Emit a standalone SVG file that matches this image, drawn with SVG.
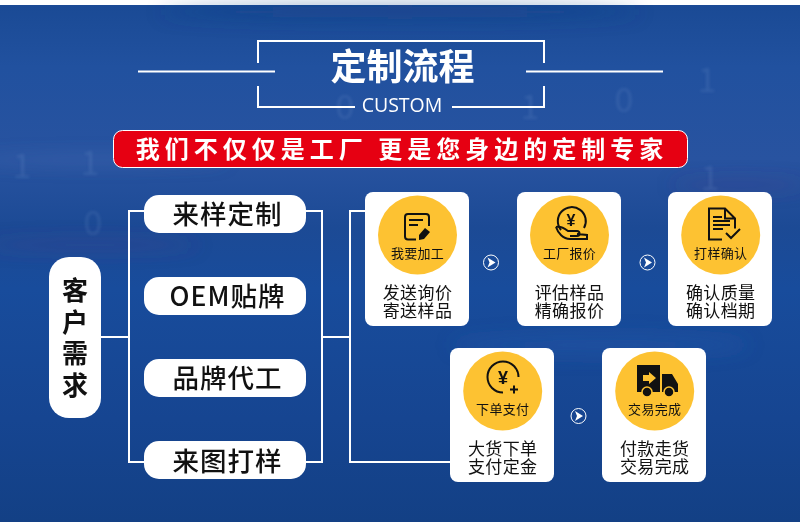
<svg xmlns="http://www.w3.org/2000/svg" width="800" height="527" viewBox="0 0 800 527">
<style>
text{font-family:"Noto Sans CJK SC","Liberation Sans",sans-serif;text-anchor:middle}
.ln{fill:none;stroke:#fff;stroke-width:2}
.p{font-size:26.500px;fill:#111;letter-spacing:1px;font-weight:500}
.q{font-size:26px;fill:#111;font-weight:700}
.c{font-size:13px;fill:#111;letter-spacing:.3px}
.d{font-size:17px;fill:#111;letter-spacing:.4px}
.ic{fill:none;stroke:#111;stroke-width:2}
.y{font-family:"Liberation Sans",sans-serif;font-weight:700;fill:#111}
.bg{font-family:"Liberation Sans",sans-serif;fill:#a9c4ec;font-size:34px}
</style>
<defs>
<linearGradient id="g" x1="0" y1="0" x2="0" y2="1"><stop offset="0" stop-color="#1a4a95"/><stop offset=".12" stop-color="#21519f"/><stop offset=".3" stop-color="#2853a0"/><stop offset=".43" stop-color="#1c4a95"/><stop offset=".55" stop-color="#184c9c"/><stop offset=".8" stop-color="#164591"/><stop offset="1" stop-color="#134085"/></linearGradient>
<filter id="b" x="-30%" y="-30%" width="160%" height="160%"><feGaussianBlur stdDeviation="1.500"/></filter>
<filter id="b2" x="-30%" y="-200%" width="160%" height="500%"><feGaussianBlur stdDeviation="9"/></filter>
<g id="arr"><circle r="7.500" fill="none" stroke="#fff" stroke-width="1"/><path d="M-3.500-5 4.500 0-3.500 5-1.500 0Z" fill="#fff"/></g>
</defs>
<rect width="800" height="527" fill="#fff"/>
<rect y="5" width="800" height="517" fill="url(#g)"/>
<g id="backdrop">
<g filter="url(#b2)"><ellipse cx="90" cy="245" rx="110" ry="6" fill="#5a3a80" opacity=".25"/><ellipse cx="740" cy="185" rx="70" ry="6" fill="#5a3a80" opacity=".25"/><ellipse cx="100" cy="160" rx="130" ry="4" fill="#5f82c0" opacity=".3"/><ellipse cx="600" cy="345" rx="150" ry="12" fill="#2a62b8" opacity=".25"/><ellipse cx="400" cy="12" rx="240" ry="8" fill="#123f85" opacity=".4"/></g>
<g class="bg" filter="url(#b)" opacity=".12"><text x="22" y="178">1</text><text x="90" y="175">1</text><text x="93" y="235">0</text><text x="345" y="119">0</text><text x="530" y="119">1</text><text x="624" y="112">0</text><text x="707" y="92">1</text><text x="710" y="190">1</text></g>
</g>
<g id="title">
<path class="ln" d="M258 63V41H544V63M258 86V107H355M452 107H544V86" stroke-width="2.500"/>
<path class="ln" d="M138 71.500H275M526 71.500H663"/>
<text x="402.500" y="80" font-size="36" font-weight="700" fill="#fff">定制流程</text>
<text x="402" y="112" font-size="19.500" fill="#fff" style="font-family:'Open Sans','Liberation Sans',sans-serif">CUSTOM</text>
</g>
<g id="banner"><rect x="113.500" y="130.500" width="574" height="37" rx="9" fill="#e60012" stroke="#fff"/>
<text x="402" y="158" font-size="24" font-weight="700" fill="#fff" letter-spacing="5" xml:space="preserve">我们不仅仅是工厂 更是您身边的定制专家</text></g>
<g id="connectors" class="ln">
<path d="M101 337H130M144 211H129V462H144M306 211H322V462H306M322 337H350M365 211H350V462H450"/>
</g>
<g id="n-customer"><rect x="49" y="257" width="52" height="161" rx="20" fill="#fff"/>
<text class="q" x="75" y="300">客</text><text class="q" x="75" y="332">户</text><text class="q" x="75" y="363">需</text><text class="q" x="75" y="395">求</text></g>
<g id="n1"><rect x="144" y="195" width="162" height="38" rx="15" fill="#fff"/><text class="p" x="227.500" y="224">来样定制</text></g>
<g id="n2"><rect x="144" y="277" width="162" height="38" rx="15" fill="#fff"/><text class="p" x="227.500" y="306">OEM贴牌</text></g>
<g id="n3"><rect x="144" y="359" width="162" height="38" rx="15" fill="#fff"/><text class="p" x="227.500" y="388">品牌代工</text></g>
<g id="n4"><rect x="144" y="441" width="162" height="38" rx="15" fill="#fff"/><text class="p" x="227.500" y="471">来图打样</text></g>
<g id="s1"><rect x="365" y="192" width="104" height="134" rx="8" fill="#fff"/><circle cx="417.500" cy="235" r="39.500" fill="#fdc232"/>
<path class="ic" d="M416 239.500h-8a3 3 0 0 1-3-3v-19.500a3 3 0 0 1 3-3h18a3 3 0 0 1 3 3v9M409 220h14M409 225h9"/><path d="M419 235l6-7 5 4-6 7-5 1Z" fill="#111"/>
<text class="c" x="417.500" y="257.500">我要加工</text><text class="d" x="417.500" y="299">发送询价</text><text class="d" x="417.500" y="317">寄送样品</text></g>
<g id="s2"><rect x="517" y="192" width="104" height="134" rx="8" fill="#fff"/><circle cx="569.500" cy="235" r="39.500" fill="#fdc232"/>
<path class="ic" d="M561 230a14 14 0 1 1 23-2"/><text class="y" x="571" y="226" font-size="16">¥</text><path class="ic" d="M556 227c4-1 8 1 12 4h9a2.500 2.500 0 0 1 0 5h-7M556 227c2 6 7 12 14 12h17v-4l-10-1"/>
<text class="c" x="569.500" y="257.500">工厂报价</text><text class="d" x="569.500" y="299">评估样品</text><text class="d" x="569.500" y="317">精确报价</text></g>
<g id="s3"><rect x="668" y="192" width="104" height="134" rx="8" fill="#fff"/><circle cx="720.700" cy="235" r="39.500" fill="#fdc232"/>
<path class="ic" d="M722 239.500h-13v-31h16l10 10v10M725 208.500v10h10M713 217h9M713 221h17M713 225h17M713 229h10M726 233l5 5 9-9"/>
<text class="c" x="720.700" y="257.500">打样确认</text><text class="d" x="720.700" y="299">确认质量</text><text class="d" x="720.700" y="317">确认档期</text></g>
<g id="s4"><rect x="450" y="348" width="104" height="134" rx="8" fill="#fff"/><circle cx="502.700" cy="391" r="39.500" fill="#fdc232"/>
<path class="ic" d="M518.500 377a15.500 15.500 0 1 0-15.500 15.500M514 385.500v8M510 389.500h8"/><text class="y" x="503" y="384" font-size="18">¥</text>
<text class="c" x="502.700" y="413.500">下单支付</text><text class="d" x="502.700" y="455">大货下单</text><text class="d" x="502.700" y="473">支付定金</text></g>
<g id="s5"><rect x="602" y="348" width="104" height="134" rx="8" fill="#fff"/><circle cx="654.700" cy="391" r="39.500" fill="#fdc232"/>
<path d="M637 365h23v27h-23ZM662 374h10l6 10v8h-16Z" fill="#111"/><circle cx="647" cy="392" r="5" fill="#111" stroke="#fdc232" stroke-width="1.500"/><circle cx="669" cy="392" r="5" fill="#111" stroke="#fdc232" stroke-width="1.500"/><path d="M643 375h6v-3l7 6-7 6v-3h-6Z" fill="#fdc232"/>
<text class="c" x="654.700" y="413.500">交易完成</text><text class="d" x="654.700" y="455">付款走货</text><text class="d" x="654.700" y="473">交易完成</text></g>
<g id="arrows"><use href="#arr" x="491" y="262.500"/><use href="#arr" x="647.500" y="262.500"/><use href="#arr" x="578.500" y="416"/></g>
</svg>
